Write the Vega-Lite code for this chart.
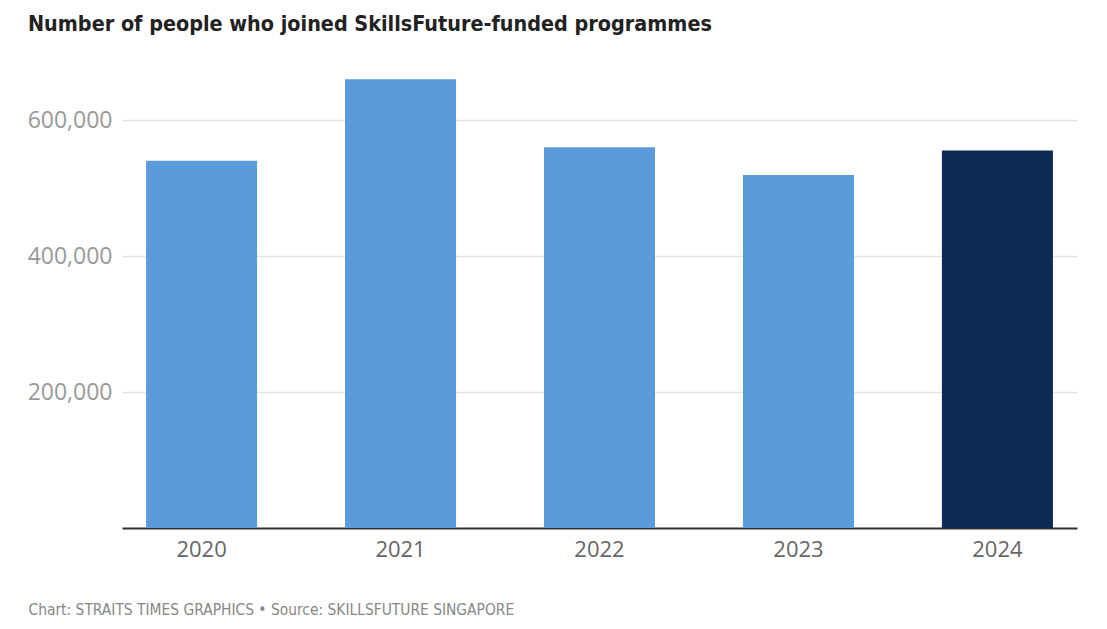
{
  "$schema": "https://vega.github.io/schema/vega-lite/v6.json",
  "width": 955,
  "height": 476,
  "autosize": {"type": "none"},
  "padding": {"left": 122, "top": 52, "right": 30, "bottom": 101},
  "background": "white",
  "title": {
    "text": "Number of people who joined SkillsFuture-funded programmes",
    "anchor": "start",
    "frame": "group",
    "dx": -94,
    "offset": 17,
    "font": "DejaVu Sans Condensed",
    "fontSize": 21.4,
    "fontWeight": "bold",
    "color": "#222222"
  },
  "data": {
    "values": [
      {"year": "2020", "people": 540000, "highlight": "past"},
      {"year": "2021", "people": 660000, "highlight": "past"},
      {"year": "2022", "people": 560000, "highlight": "past"},
      {"year": "2023", "people": 519000, "highlight": "past"},
      {"year": "2024", "people": 555000, "highlight": "latest"}
    ]
  },
  "mark": {"type": "bar"},
  "encoding": {
    "x": {
      "field": "year",
      "type": "ordinal",
      "scale": {"paddingInner": 0.442, "paddingOuter": 0.121},
      "axis": {
        "title": "Chart: STRAITS TIMES GRAPHICS • Source: SKILLSFUTURE SINGAPORE",
        "titleAnchor": "start",
        "titleAlign": "left",
        "titleX": -94,
        "titleY": 74,
        "titleFont": "DejaVu Sans Condensed",
        "titleFontSize": 15.4,
        "titleFontWeight": "normal",
        "titleColor": "#888888",
        "labelAngle": 0,
        "labelFont": "Open Sans",
        "labelFontSize": 22,
        "labelColor": "#666666",
        "labelPadding": 11,
        "ticks": false,
        "domainColor": "#333333",
        "domainWidth": 2,
        "grid": false
      }
    },
    "y": {
      "field": "people",
      "type": "quantitative",
      "scale": {"domain": [0, 700000], "nice": false},
      "axis": {
        "title": null,
        "values": [200000, 400000, 600000],
        "format": ",d",
        "labelFont": "Open Sans",
        "labelFontSize": 23,
        "labelColor": "#999999",
        "labelPadding": 10,
        "ticks": false,
        "domain": false,
        "gridColor": "#e3e3e3",
        "gridWidth": 1.5
      }
    },
    "color": {
      "field": "highlight",
      "type": "nominal",
      "scale": {"domain": ["past", "latest"], "range": ["#5b9bda", "#0d2b56"]},
      "legend": null
    }
  },
  "config": {"view": {"stroke": null}}
}
